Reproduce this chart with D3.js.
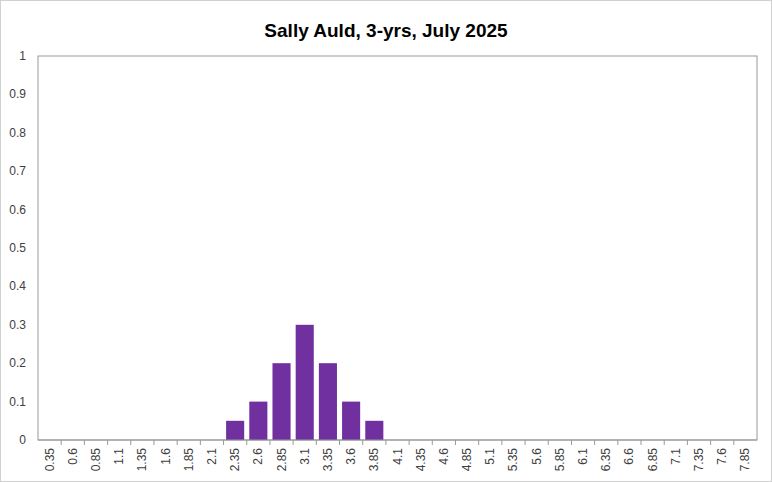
<!DOCTYPE html><html><head><script src="https://d3js.org/d3.v7.min.js"></script>
<style>body{margin:0}</style></head><body><svg id="c" width="772" height="482"></svg><script>
const categories=["0.35","0.6","0.85","1.1","1.35","1.6","1.85","2.1","2.35","2.6","2.85","3.1","3.35","3.6","3.85","4.1","4.35","4.6","4.85","5.1","5.35","5.6","5.85","6.1","6.35","6.6","6.85","7.1","7.35","7.6","7.85"];
const values=[0,0,0,0,0,0,0,0,0.05,0.1,0.2,0.3,0.2,0.1,0.05,0,0,0,0,0,0,0,0,0,0,0,0,0,0,0,0];
const yTicks=[0,0.1,0.2,0.3,0.4,0.5,0.6,0.7,0.8,0.9,1];
const svg=d3.select("#c");
svg.append("rect").attr("x",0.5).attr("y",0.5).attr("width",771).attr("height",481).attr("fill","#fff").attr("stroke","#d0d0d0");
const L=38,R=757,T=56,B=440;
const x=d3.scaleBand().domain(categories).range([L,R]).paddingInner(0.22).paddingOuter(0.11);
const y=d3.scaleLinear().domain([0,1]).range([B,T]);
svg.append("rect").attr("x",L).attr("y",T).attr("width",R-L).attr("height",B-T).attr("fill","none").attr("stroke","#999");
svg.append("text").attr("x",386).attr("y",37).attr("text-anchor","middle").attr("font-family","Liberation Sans, Arial").attr("font-size",19).attr("font-weight","bold").text("Sally Auld, 3-yrs, July 2025");
svg.selectAll(".b").data(values).enter().append("rect").attr("x",(d,i)=>x(categories[i])).attr("y",d=>y(d)).attr("width",x.bandwidth()).attr("height",d=>B-y(d)).attr("fill","#7030a0");
yTicks.forEach(t=>svg.append("text").attr("x",26).attr("y",y(t)+4).attr("text-anchor","end").attr("font-family","Liberation Sans, Arial").attr("font-size",12).attr("fill","#404040").text(t));
const step=(R-L)/categories.length;
const g=svg.append("g");
g.append("line").attr("x1",L).attr("x2",R).attr("y1",B).attr("y2",B).attr("stroke","#999");
categories.forEach((c,i)=>{
 const xb=L+step*(i+1);
 if(i<categories.length-1) g.append("line").attr("x1",xb).attr("x2",xb).attr("y1",B).attr("y2",B+5).attr("stroke","#999");
 const xc=x(c)+x.bandwidth()/2;
 g.append("text").attr("transform",`translate(${xc+4},${B+8}) rotate(-90)`).attr("text-anchor","end").attr("font-family","Liberation Sans, Arial").attr("font-size",12).attr("fill","#404040").text(c);
});
</script></body></html>
